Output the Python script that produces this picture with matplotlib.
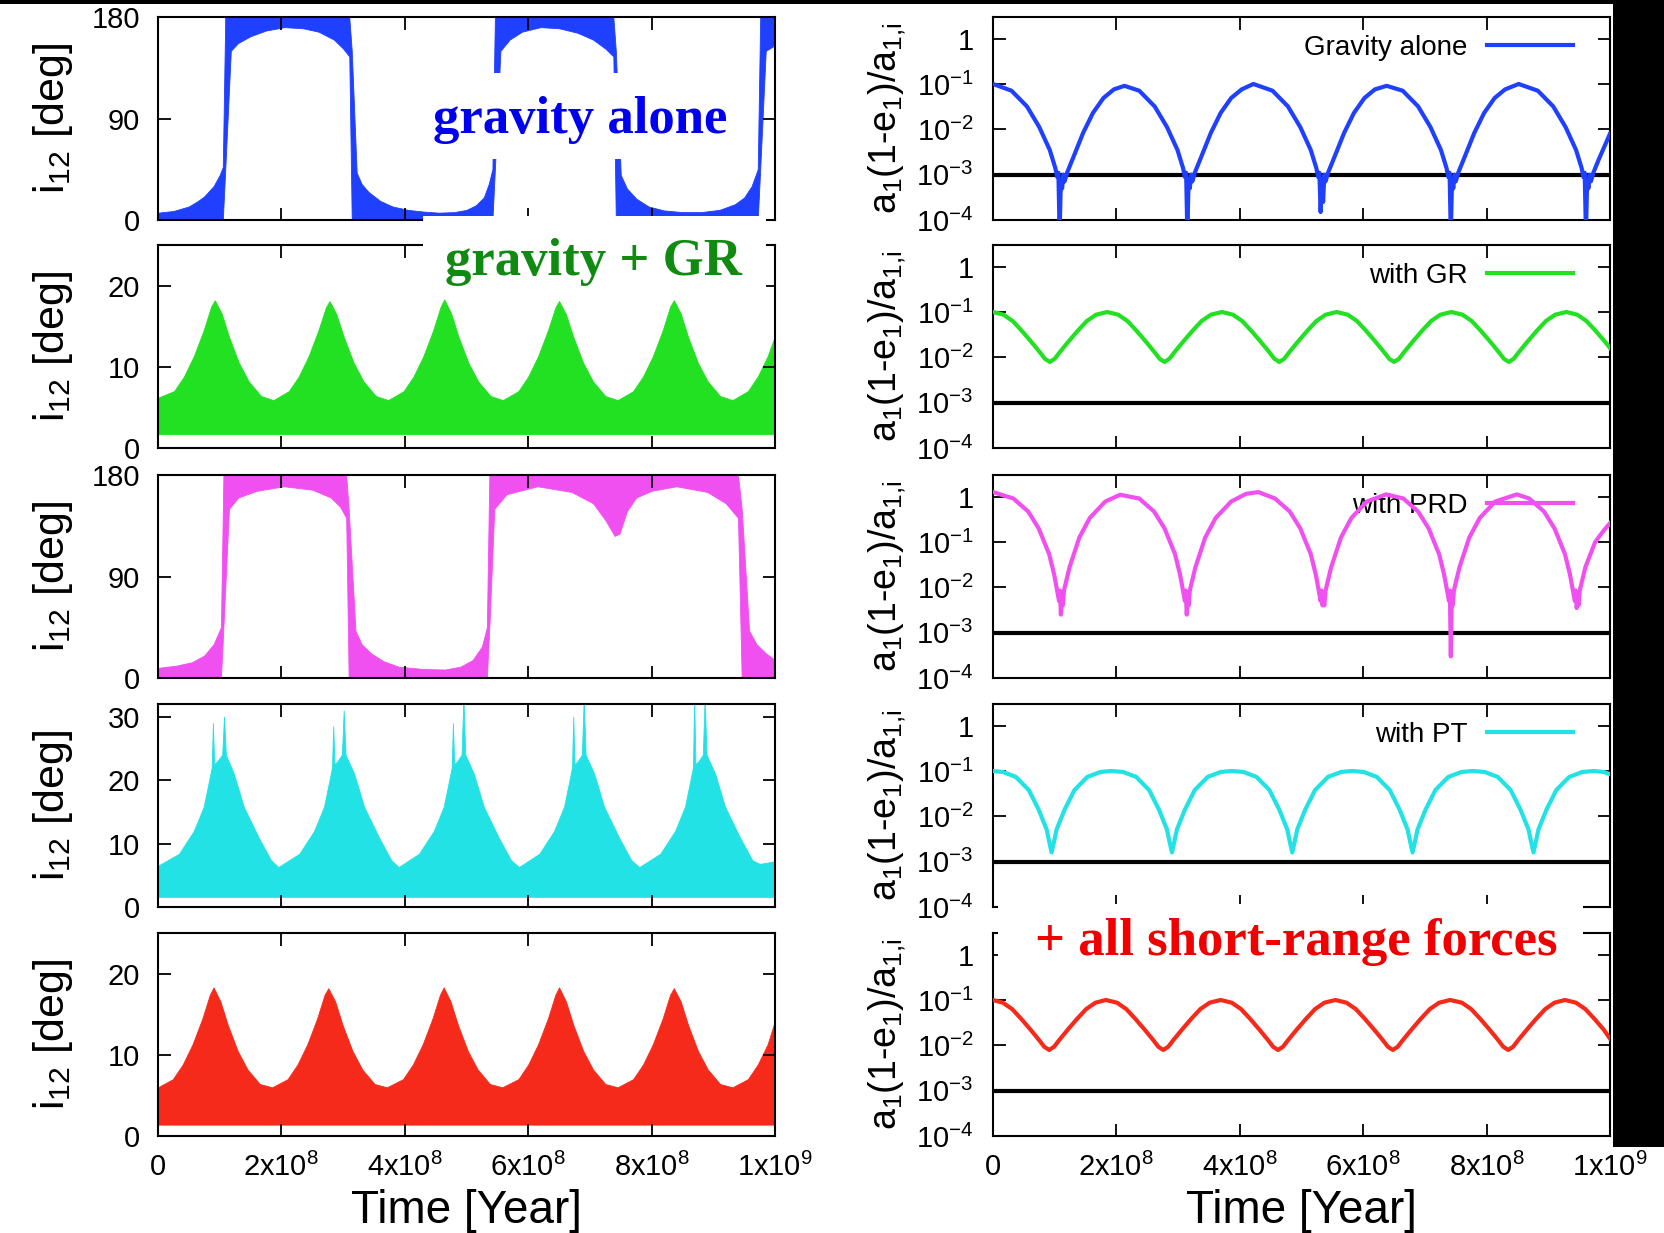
import numpy as np
import matplotlib
matplotlib.use("Agg")
import matplotlib.pyplot as plt
from matplotlib.patches import Rectangle

plt.rcParams['font.family'] = ['Liberation Sans Narrow', 'Liberation Sans', 'DejaVu Sans']
plt.rcParams['mathtext.fontset'] = 'custom'
plt.rcParams['mathtext.rm'] = 'Liberation Sans'
plt.rcParams['mathtext.it'] = 'Liberation Sans:italic'
plt.rcParams['mathtext.bf'] = 'Liberation Sans:bold'

YR = 1e8  # all times below are in units of 1e8 yr

# ---------------- left column: envelope of the fast oscillating i12 band [deg]
# gravity alone (flips between prograde and retrograde)
grav_t = [0.00, 0.25, 0.50, 0.65, 0.75, 0.90, 1.00, 1.05,
          1.09, 1.18, 1.30, 1.50, 1.75, 2.05, 2.35, 2.60, 2.85, 3.00, 3.10,
          3.14, 3.22, 3.30, 3.41, 3.60, 3.80, 4.05, 4.30, 4.55, 4.80, 5.00, 5.15, 5.28, 5.36, 5.42,
          5.46, 5.55, 5.70, 5.90, 6.20, 6.50, 6.80, 7.05, 7.25, 7.38,
          7.42, 7.50, 7.60, 7.75, 7.95, 8.20, 8.50, 8.80, 9.10, 9.35, 9.50, 9.62, 9.72,
          9.76, 9.85, 10.0]
grav_lo = [0, 0, 0, 0, 0, 0, 0, 0,
           45, 150, 157, 163, 168, 171, 170, 167, 160, 152, 145,
           0, 0, 0, 0, 0, 0, 0, 0, 0, 0, 0, 0, 0, 0, 0,
           45, 150, 160, 167, 171, 170, 166, 160, 152, 145,
           0, 0, 0, 0, 0, 0, 0, 0, 0, 0, 0, 0, 0,
           45, 150, 155]
grav_hi = [6.5, 8, 12, 17, 21, 30, 40, 47,
           180, 180, 180, 180, 180, 180, 180, 180, 180, 180, 180,
           150, 42, 32, 25, 17, 12, 9, 7.5, 6.5, 7, 9, 13, 20, 32, 45,
           180, 180, 180, 180, 180, 180, 180, 180, 180, 180,
           150, 40, 28, 19, 12, 8.5, 7, 7, 9, 14, 20, 30, 45,
           180, 180, 180]

# with PRD
prd_t = [0.00, 0.30, 0.55, 0.75, 0.90, 1.02,
         1.06, 1.15, 1.30, 1.60, 2.04, 2.50, 2.80, 2.95, 3.05,
         3.09, 3.20, 3.30, 3.45, 3.65, 3.90, 4.30, 4.65, 4.90, 5.10, 5.25, 5.33,
         5.37, 5.45, 5.65, 6.15, 6.70, 7.05, 7.25, 7.40, 7.48, 7.60, 7.75, 8.00, 8.40, 8.90, 9.20, 9.40,
         9.46, 9.58, 9.70, 9.85, 10.0]
prd_lo = [0, 0, 0, 0, 0, 0,
          45, 150, 160, 166, 170, 167, 160, 152, 142,
          0, 0, 0, 0, 0, 0, 0, 0, 0, 0, 0, 0,
          45, 150, 163, 170, 165, 155, 140, 126, 128, 148, 160, 166, 170, 165, 155, 142,
          0, 0, 0, 0, 0]
prd_hi = [9, 11, 14, 20, 30, 45,
          180, 180, 180, 180, 180, 180, 180, 180, 180,
          150, 42, 30, 22, 15, 10, 8, 7.5, 10, 16, 28, 45,
          180, 180, 180, 180, 180, 180, 180, 180, 180, 180, 180, 180, 180, 180, 180, 180,
          150, 42, 30, 22, 16]

# with GR (upper envelope, band floor)
gr_t = [0.00, 0.26, 0.42, 0.58, 0.74, 0.86, 0.92, 1.03, 1.15, 1.31, 1.47, 1.67,
        1.87, 2.12, 2.28, 2.44, 2.60, 2.72, 2.78, 2.89, 3.01, 3.17, 3.33, 3.53,
        3.73, 3.98, 4.14, 4.30, 4.46, 4.58, 4.64, 4.75, 4.87, 5.03, 5.19, 5.39,
        5.59, 5.84, 6.00, 6.16, 6.32, 6.44, 6.50, 6.61, 6.73, 6.89, 7.05, 7.25,
        7.45, 7.70, 7.86, 8.02, 8.18, 8.30, 8.36, 8.47, 8.59, 8.75, 8.91, 9.11,
        9.31, 9.56, 9.72, 9.88, 10.0]
gr_hi = [6.2, 7.0, 8.8, 11.3, 14.5, 17.4, 18.2, 16.6, 13.7, 10.5, 8.2, 6.4,
         5.9, 7.0, 8.8, 11.3, 14.5, 17.3, 18.1, 16.5, 13.7, 10.5, 8.2, 6.4,
         5.9, 7.0, 8.8, 11.3, 14.5, 17.4, 18.3, 16.6, 13.7, 10.5, 8.2, 6.4,
         5.9, 7.0, 8.8, 11.3, 14.5, 17.3, 18.1, 16.5, 13.7, 10.5, 8.2, 6.4,
         5.9, 7.0, 8.8, 11.3, 14.5, 17.4, 18.2, 16.6, 13.7, 10.5, 8.2, 6.4,
         5.9, 7.0, 8.8, 11.3, 13.8]
gr_floor = 1.7

# with PT (upper envelope incl. spikes, band floor)
pt_t = [0.00, 0.34, 0.58, 0.74, 0.84, 0.87, 0.89, 0.91, 0.96, 1.04, 1.07, 1.10, 1.23, 1.39, 1.63, 1.83,
        1.95, 2.29, 2.53, 2.69, 2.79, 2.82, 2.84, 2.86, 2.91, 2.98, 3.01, 3.04, 3.18, 3.34, 3.58, 3.78,
        3.90, 4.23, 4.47, 4.63, 4.73, 4.76, 4.78, 4.80, 4.85, 4.92, 4.95, 4.98, 5.12, 5.28, 5.52, 5.72,
        5.85, 6.18, 6.42, 6.58, 6.68, 6.71, 6.73, 6.75, 6.80, 6.87, 6.90, 6.93, 7.07, 7.23, 7.47, 7.67,
        7.80, 8.14, 8.38, 8.54, 8.64, 8.67, 8.69, 8.71, 8.76, 8.83, 8.86, 8.89, 9.03, 9.19, 9.43, 9.63,
        9.75, 10.0]
pt_hi = [6.5, 8.4, 12.0, 15.8, 20.5, 22.0, 29.0, 22.5, 23.0, 24.0, 30.0, 24.0, 21.0, 15.8, 11.0, 7.4,
         6.3, 8.4, 12.0, 15.8, 20.5, 22.0, 28.5, 22.5, 23.0, 24.0, 31.0, 24.0, 21.0, 15.8, 11.0, 7.4,
         6.3, 8.4, 12.0, 15.8, 20.5, 22.0, 29.0, 22.5, 23.0, 24.0, 33.0, 24.0, 21.0, 15.8, 11.0, 7.4,
         6.3, 8.4, 12.0, 15.8, 20.5, 22.0, 30.0, 22.5, 23.0, 24.0, 33.0, 24.0, 21.0, 15.8, 11.0, 7.4,
         6.3, 8.4, 12.0, 15.8, 20.5, 22.0, 33.0, 22.5, 23.0, 24.0, 33.0, 24.0, 21.0, 15.8, 11.0, 7.4,
         6.8, 7.2]
pt_floor = 1.6

# all short-range forces
all_t = [0.00, 0.24, 0.40, 0.56, 0.72, 0.84, 0.90, 1.01, 1.13, 1.29, 1.45, 1.65,
         1.85, 2.10, 2.26, 2.42, 2.58, 2.70, 2.76, 2.87, 2.99, 3.15, 3.31, 3.51,
         3.71, 3.97, 4.13, 4.29, 4.45, 4.57, 4.63, 4.74, 4.86, 5.02, 5.18, 5.38,
         5.58, 5.84, 6.00, 6.16, 6.32, 6.44, 6.50, 6.61, 6.73, 6.89, 7.05, 7.25,
         7.45, 7.70, 7.86, 8.02, 8.18, 8.30, 8.36, 8.47, 8.59, 8.75, 8.91, 9.11,
         9.31, 9.56, 9.72, 9.88, 10.0]
all_hi = [6.0, 7.0, 8.8, 11.3, 14.5, 17.4, 18.3, 16.6, 13.7, 10.5, 8.2, 6.4,
          6.0, 7.0, 8.8, 11.3, 14.5, 17.4, 18.2, 16.6, 13.7, 10.5, 8.2, 6.4,
          6.0, 7.0, 8.8, 11.3, 14.5, 17.4, 18.3, 16.6, 13.7, 10.5, 8.2, 6.4,
          6.0, 7.0, 8.8, 11.3, 14.5, 17.4, 18.3, 16.6, 13.7, 10.5, 8.2, 6.4,
          6.0, 7.0, 8.8, 11.3, 14.5, 17.4, 18.2, 16.6, 13.7, 10.5, 8.2, 6.4,
          6.0, 7.0, 8.8, 11.3, 14.2]
all_floor = 1.4

# ---------------- right column: a1(1-e1)/a1,i
grav_r_t = [0.00, 0.30, 0.55, 0.75, 0.92, 1.01, 1.04, 1.06, 1.08, 1.10, 1.12, 1.14, 1.16, 1.20, 1.29, 1.46, 1.62, 1.79, 1.96, 2.13,
            2.37, 2.62, 2.82, 2.99, 3.08, 3.11, 3.13, 3.15, 3.17, 3.19, 3.21, 3.23, 3.27, 3.36, 3.53, 3.69, 3.86, 4.03, 4.22,
            4.53, 4.78, 4.98, 5.15, 5.24, 5.27, 5.29, 5.31, 5.33, 5.35, 5.37, 5.39, 5.43, 5.52, 5.69, 5.85, 6.02, 6.19, 6.38,
            6.64, 6.89, 7.09, 7.26, 7.35, 7.38, 7.40, 7.42, 7.44, 7.46, 7.48, 7.50, 7.54, 7.63, 7.80, 7.96, 8.13, 8.30, 8.52,
            8.83, 9.08, 9.28, 9.45, 9.54, 9.57, 9.59, 9.61, 9.63, 9.65, 9.67, 9.69, 9.73, 9.82, 10.0]
grav_r = [0.10, 0.071, 0.032, 0.0112, 0.0035, 0.0014, 8.9e-4, 1.1e-3, 5e-5, 7.9e-4, 5e-4, 1.0e-3, 7.1e-4, 1.1e-3, 2.2e-3, 8.3e-3, 0.023, 0.049, 0.076, 0.091,
          0.071, 0.032, 0.0112, 0.0035, 0.0014, 8.9e-4, 1.1e-3, 5e-5, 7.9e-4, 5e-4, 1.0e-3, 7.1e-4, 1.1e-3, 2.2e-3, 8.3e-3, 0.023, 0.049, 0.076, 0.10,
          0.071, 0.032, 0.0112, 0.0035, 0.0014, 8.9e-4, 1.1e-3, 1.5e-4, 7.9e-4, 2.5e-4, 1.0e-3, 7.1e-4, 1.1e-3, 2.2e-3, 8.3e-3, 0.023, 0.049, 0.076, 0.091,
          0.071, 0.032, 0.0112, 0.0035, 0.0014, 8.9e-4, 1.1e-3, 5e-5, 7.9e-4, 5e-4, 1.0e-3, 7.1e-4, 1.1e-3, 2.2e-3, 8.3e-3, 0.023, 0.049, 0.076, 0.10,
          0.071, 0.032, 0.0112, 0.0035, 0.0014, 8.9e-4, 1.1e-3, 5e-5, 7.9e-4, 5e-4, 1.0e-3, 7.1e-4, 1.1e-3, 2.2e-3, 8.0e-3]

gr_r_t = [0.00, 0.17, 0.32, 0.47, 0.62, 0.76, 0.84, 0.92, 1.00, 1.08, 1.22, 1.37, 1.52, 1.67, 1.85,
          2.03, 2.18, 2.33, 2.48, 2.62, 2.70, 2.78, 2.86, 2.94, 3.08, 3.23, 3.38, 3.53, 3.71,
          3.89, 4.04, 4.19, 4.34, 4.48, 4.56, 4.64, 4.72, 4.80, 4.94, 5.09, 5.24, 5.39, 5.57,
          5.75, 5.90, 6.05, 6.20, 6.34, 6.42, 6.50, 6.58, 6.66, 6.80, 6.95, 7.10, 7.25, 7.43,
          7.61, 7.76, 7.91, 8.06, 8.20, 8.28, 8.36, 8.44, 8.52, 8.66, 8.81, 8.96, 9.11, 9.29,
          9.47, 9.62, 9.77, 9.92, 10.0]
gr_r = [0.10, 0.087, 0.063, 0.038, 0.022, 0.0129, 0.0093, 0.0079, 0.0093, 0.0129, 0.022, 0.038, 0.063, 0.087, 0.10,
        0.087, 0.063, 0.038, 0.022, 0.0129, 0.0093, 0.0079, 0.0093, 0.0129, 0.022, 0.038, 0.063, 0.087, 0.10,
        0.087, 0.063, 0.038, 0.022, 0.0129, 0.0093, 0.0079, 0.0093, 0.0129, 0.022, 0.038, 0.063, 0.087, 0.10,
        0.087, 0.063, 0.038, 0.022, 0.0129, 0.0093, 0.0079, 0.0093, 0.0129, 0.022, 0.038, 0.063, 0.087, 0.10,
        0.087, 0.063, 0.038, 0.022, 0.0129, 0.0093, 0.0079, 0.0093, 0.0129, 0.022, 0.038, 0.063, 0.087, 0.10,
        0.087, 0.063, 0.038, 0.022, 0.016]

prd_r_t = [0.00, 0.33, 0.57, 0.74, 0.91, 0.99, 1.05, 1.07, 1.085, 1.10, 1.115, 1.13, 1.15, 1.24, 1.40, 1.57, 1.82, 2.06,
           2.37, 2.61, 2.78, 2.95, 3.03, 3.09, 3.11, 3.125, 3.14, 3.155, 3.17, 3.19, 3.28, 3.44, 3.61, 3.86, 4.10, 4.30,
           4.57, 4.81, 4.98, 5.15, 5.23, 5.29, 5.31, 5.325, 5.34, 5.355, 5.37, 5.39, 5.48, 5.64, 5.81, 6.06, 6.37,
           6.65, 6.89, 7.06, 7.23, 7.31, 7.37, 7.39, 7.405, 7.42, 7.435, 7.45, 7.47, 7.56, 7.72, 7.89, 8.14, 8.49,
           8.69, 8.93, 9.10, 9.27, 9.35, 9.41, 9.43, 9.445, 9.46, 9.475, 9.49, 9.51, 9.60, 9.76, 9.90, 10.0]
prd_r = [1.26, 0.91, 0.47, 0.20, 0.054, 0.0195, 0.0071, 0.005, 0.0085, 0.0025, 0.005, 0.004, 0.0085, 0.0275, 0.126, 0.34, 0.78, 1.10,
         0.91, 0.47, 0.20, 0.054, 0.0195, 0.0071, 0.005, 0.0085, 0.0025, 0.005, 0.004, 0.0085, 0.0275, 0.126, 0.34, 0.78, 1.15, 1.26,
         0.91, 0.47, 0.20, 0.054, 0.0195, 0.0071, 0.005, 0.0085, 0.004, 0.005, 0.004, 0.0085, 0.0275, 0.126, 0.34, 0.78, 1.12,
         0.91, 0.47, 0.20, 0.054, 0.0195, 0.0071, 0.005, 0.0085, 0.0003, 0.005, 0.004, 0.0085, 0.0275, 0.126, 0.34, 0.78, 1.12,
         0.91, 0.47, 0.20, 0.054, 0.0195, 0.0071, 0.005, 0.0085, 0.0035, 0.005, 0.004, 0.0085, 0.0275, 0.10, 0.18, 0.26]

pt_r_t = [0.00, 0.16, 0.37, 0.58, 0.74, 0.87, 0.91, 0.95, 0.99, 1.03, 1.16, 1.32, 1.53, 1.74, 1.92,
          2.11, 2.32, 2.53, 2.69, 2.82, 2.86, 2.90, 2.94, 2.98, 3.11, 3.27, 3.48, 3.69, 3.87,
          4.06, 4.27, 4.48, 4.64, 4.77, 4.81, 4.85, 4.89, 4.93, 5.06, 5.22, 5.43, 5.64, 5.82,
          6.01, 6.22, 6.43, 6.59, 6.72, 6.76, 6.80, 6.84, 6.88, 7.01, 7.17, 7.38, 7.59, 7.78,
          7.97, 8.18, 8.39, 8.55, 8.68, 8.72, 8.76, 8.80, 8.84, 8.97, 9.13, 9.34, 9.55, 9.74,
          9.90, 10.0]
pt_r = [0.10, 0.095, 0.074, 0.038, 0.014, 0.0051, 0.0028, 0.0016, 0.0028, 0.0051, 0.014, 0.038, 0.074, 0.095, 0.10,
        0.095, 0.074, 0.038, 0.014, 0.0051, 0.0028, 0.0016, 0.0028, 0.0051, 0.014, 0.038, 0.074, 0.095, 0.10,
        0.095, 0.074, 0.038, 0.014, 0.0051, 0.0028, 0.0016, 0.0028, 0.0051, 0.014, 0.038, 0.074, 0.095, 0.10,
        0.095, 0.074, 0.038, 0.014, 0.0051, 0.0028, 0.0016, 0.0028, 0.0051, 0.014, 0.038, 0.074, 0.095, 0.10,
        0.095, 0.074, 0.038, 0.014, 0.0051, 0.0028, 0.0016, 0.0028, 0.0051, 0.014, 0.038, 0.074, 0.095, 0.10,
        0.095, 0.085]

all_r_t = [0.00, 0.16, 0.31, 0.46, 0.61, 0.75, 0.83, 0.91, 0.99, 1.07, 1.21, 1.36, 1.51, 1.66, 1.83,
           2.01, 2.16, 2.31, 2.46, 2.60, 2.68, 2.76, 2.84, 2.92, 3.06, 3.21, 3.36, 3.51, 3.69,
           3.87, 4.02, 4.17, 4.32, 4.46, 4.54, 4.62, 4.70, 4.78, 4.92, 5.07, 5.22, 5.37, 5.55,
           5.73, 5.88, 6.03, 6.18, 6.32, 6.40, 6.48, 6.56, 6.64, 6.78, 6.93, 7.08, 7.23, 7.41,
           7.60, 7.75, 7.90, 8.05, 8.19, 8.27, 8.35, 8.43, 8.51, 8.65, 8.80, 8.95, 9.10, 9.27,
           9.45, 9.60, 9.75, 9.90, 10.0]
all_r = [0.10, 0.087, 0.063, 0.038, 0.022, 0.0129, 0.0093, 0.0079, 0.0093, 0.0129, 0.022, 0.038, 0.063, 0.087, 0.10,
         0.087, 0.063, 0.038, 0.022, 0.0129, 0.0093, 0.0079, 0.0093, 0.0129, 0.022, 0.038, 0.063, 0.087, 0.10,
         0.087, 0.063, 0.038, 0.022, 0.0129, 0.0093, 0.0079, 0.0093, 0.0129, 0.022, 0.038, 0.063, 0.087, 0.10,
         0.087, 0.063, 0.038, 0.022, 0.0129, 0.0093, 0.0079, 0.0093, 0.0129, 0.022, 0.038, 0.063, 0.087, 0.10,
         0.087, 0.063, 0.038, 0.022, 0.0129, 0.0093, 0.0079, 0.0093, 0.0129, 0.022, 0.038, 0.063, 0.087, 0.10,
         0.087, 0.063, 0.038, 0.022, 0.014]

threshold = 1e-3

legend_labels = ['Gravity alone', 'with GR', 'with PRD', 'with PT', None]
colors = ['#2040ff', '#22e022', '#f050f0', '#22e2e6', '#f52a1a']
left_ylims = [180, 25, 180, 32, 25]
left_yticks = [[0, 90, 180], [0, 10, 20], [0, 90, 180], [0, 10, 20, 30], [0, 10, 20]]
xticks = [0, 2e8, 4e8, 6e8, 8e8, 1e9]
xticklabels = ['0', r'2x10$\mathregular{^8}$', r'4x10$\mathregular{^8}$', r'6x10$\mathregular{^8}$',
               r'8x10$\mathregular{^8}$', r'1x10$\mathregular{^9}$']
log_ticks = [1e-4, 1e-3, 1e-2, 1e-1, 1]
log_ticklabels = [r'10$\mathregular{^{-4}}$', r'10$\mathregular{^{-3}}$', r'10$\mathregular{^{-2}}$',
                  r'10$\mathregular{^{-1}}$', '1']

left_data = [(grav_t, grav_lo, grav_hi), (gr_t, gr_floor, gr_hi), (prd_t, prd_lo, prd_hi),
             (pt_t, pt_floor, pt_hi), (all_t, all_floor, all_hi)]
right_data = [(grav_r_t, grav_r), (gr_r_t, gr_r), (prd_r_t, prd_r), (pt_r_t, pt_r), (all_r_t, all_r)]

W, H = 1664, 1233
fig = plt.figure(figsize=(W / 100, H / 100), dpi=100)
fig.patch.set_facecolor('white')

row_top = [17, 245, 475, 704, 933]
row_h = 203
lx, rx, aw = 158, 993, 617


def style(ax, bottom):
    ax.set_xlim(0, 1e9)
    ax.set_xticks(xticks)
    ax.tick_params(direction='in', top=True, right=True, length=9, width=1.3, labelsize=21)
    ax.tick_params(axis='x', pad=12)
    for s in ax.spines.values():
        s.set_linewidth(1.5)
    if bottom:
        ax.set_xticklabels(xticklabels)
        ax.set_xlabel('Time [Year]', fontsize=33)
        ax.xaxis.set_label_coords(0.5, -0.26)
    else:
        ax.set_xticklabels([])


for i in range(5):
    bottom = 1 - (row_top[i] + row_h) / H
    # left: inclination band
    ax = fig.add_axes([lx / W, bottom, aw / W, row_h / H])
    t, lo, hi = left_data[i]
    ax.fill_between(np.array(t) * YR, lo, hi, color=colors[i], lw=0.6, edgecolor=colors[i])
    ax.set_ylim(0, left_ylims[i])
    ax.set_yticks(left_yticks[i])
    style(ax, i == 4)
    ax.tick_params(axis='y', pad=13)
    ax.set_ylabel(r'i$\mathregular{_{12}}$ [deg]', fontsize=31)
    ax.yaxis.set_label_coords(-0.135, 0.5)

    # right: periastron distance
    ax = fig.add_axes([rx / W, bottom, aw / W, row_h / H])
    t, v = right_data[i]
    ax.plot(np.array(t) * YR, v, color=colors[i], lw=3, zorder=3, label=legend_labels[i])
    ax.axhline(threshold, color='black', lw=3, zorder=2)
    ax.set_yscale('log')
    ax.set_ylim(1e-4, 3)
    ax.set_yticks(log_ticks)
    ax.set_yticklabels(log_ticklabels)
    ax.yaxis.set_minor_locator(matplotlib.ticker.NullLocator())
    style(ax, i == 4)
    ax.tick_params(axis='y', pad=14)
    ax.set_ylabel(r'a$\mathregular{_1}$(1-e$\mathregular{_1}$)/a$\mathregular{_{1{,}i}}$', fontsize=27)
    ax.yaxis.set_label_coords(-0.137, 0.5)
    if legend_labels[i]:
        leg = ax.legend(loc='center right', bbox_to_anchor=(0.94, 0.848), frameon=False,
                        markerfirst=False, handlelength=3.1, handletextpad=0.7,
                        borderpad=0, borderaxespad=0, fontsize=20)
        leg.set_zorder(1)

# black borders of the scanned figure
fig.patches.append(Rectangle((0, 1 - 4 / H), 1, 4 / H, transform=fig.transFigure,
                             facecolor='black', edgecolor='none', zorder=1))
fig.patches.append(Rectangle((1613 / W, 1 - 1147 / H), (W - 1613) / W, 1147 / H,
                             transform=fig.transFigure, facecolor='black', edgecolor='none', zorder=1))

# white annotation boxes
boxes = [((423, 73, 752, 159), (580, 120), 'gravity alone', '#0000f0'),
         ((423, 216, 766, 299), (593, 262), 'gravity + GR', '#108a10'),
         ((998, 904, 1583, 981), (1296, 942), '+ all short-range forces', '#f00000')]
for (x0, y0, x1, y1), (tx, ty), txt, c in boxes:
    fig.patches.append(Rectangle((x0 / W, 1 - y1 / H), (x1 - x0) / W, (y1 - y0) / H,
                                 transform=fig.transFigure, facecolor='white',
                                 edgecolor='none', zorder=2))
    fig.text(tx / W, 1 - ty / H, txt, ha='center', va='center', color=c, fontsize=38,
             fontweight='bold', family='Liberation Serif', zorder=3)

fig.savefig('out.png', dpi=100)
